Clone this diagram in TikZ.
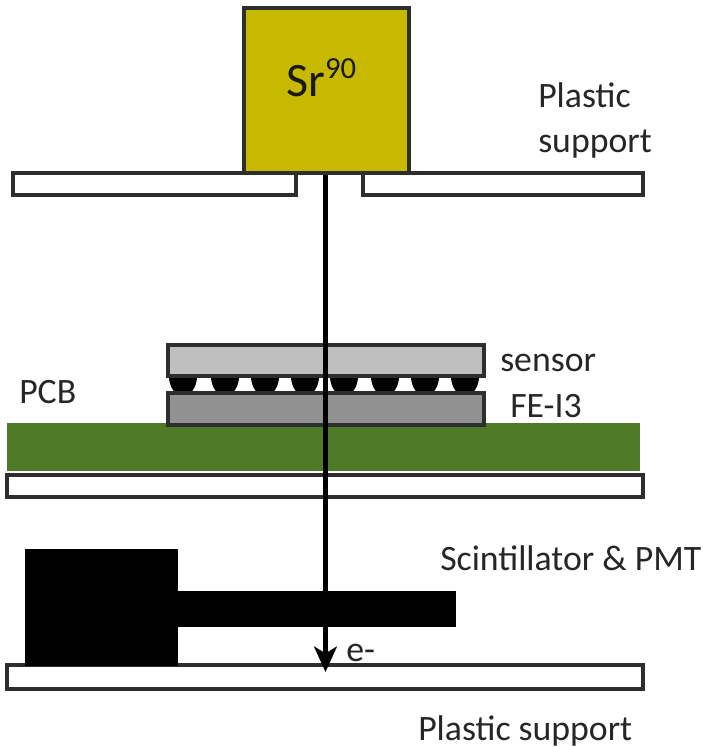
\documentclass[tikz,border=0pt]{standalone}
\usepackage{fontspec}
\setmainfont{Carlito}
\usetikzlibrary{arrows.meta}
\definecolor{srcol}{HTML}{C6B900}
\definecolor{pcbcol}{HTML}{4F7A28}
\definecolor{edgecol}{HTML}{2E2E2E}
\tikzset{
  x=0.75pt,y=-0.75pt,
  part/.style={draw=edgecol,line width=3pt,fill=#1,line join=miter},
  part/.default=white,
  lbl/.style={font=\fontsize{26.8}{30}\selectfont,text=black!85,inner sep=0pt,align=left},
  beam/.style={line width=4pt,-{Stealth[length=19pt,width=17pt,inset=5pt]}}
}
\begin{document}
\begin{tikzpicture}
\useasboundingbox (0,0) rectangle (703,747);
% plastic supports
\draw[part] (13,173) rectangle (296,195);
\draw[part] (363,173) rectangle (643,195);
\draw[part] (7,475) rectangle (643,497);
\draw[part] (7,665) rectangle (643,689);
% PCB
\fill[pcbcol] (7,423) rectangle (640,471);
% bumps
\foreach \bx in {183,225,265,305,344,385,425,465}
  \fill[black] (\bx,376) ellipse[x radius=14,y radius=20];
% chips
\draw[part=black!25] (168,345) rectangle (484,376);
\draw[part=black!43] (168,393) rectangle (484,425);
% scintillator and PMT
\fill[black] (25,549) rectangle (178,666);
\fill[black] (178,591) rectangle (456,627);
% source
\node[part=srcol,minimum width=123.75pt,minimum height=123.75pt,inner sep=0pt,anchor=north west] (src) at (241.5,6) {};
\node[lbl,font=\fontsize{36}{40}\selectfont,text=black!90,anchor=base west] (srlabel) at (286,96) {Sr\raisebox{13pt}{\fontsize{23}{26}\selectfont 90}};
% beam
\coordinate (beamend) at (325.5,672);
\draw[beam] (src.south -| beamend) -- (beamend);
% labels
\node[lbl,anchor=base west] (l1) at (538,107) {Plastic};
\node[lbl,anchor=base west] (l2) at (538,152) {support};
\node[lbl,anchor=base west] (l3) at (500,371) {sensor};
\node[lbl,anchor=base west] (l4) at (19,403) {PCB};
\node[lbl,anchor=base west] (l5) at (510,417) {FE-I3};
\node[lbl,anchor=base west] (l6) at (440,570) {Scintillator \& PMT};
\node[lbl,anchor=base west] (l7) at (346,661) {e-};
\node[lbl,anchor=base west] (l8) at (418,740) {Plastic support};
\end{tikzpicture}
\end{document}
